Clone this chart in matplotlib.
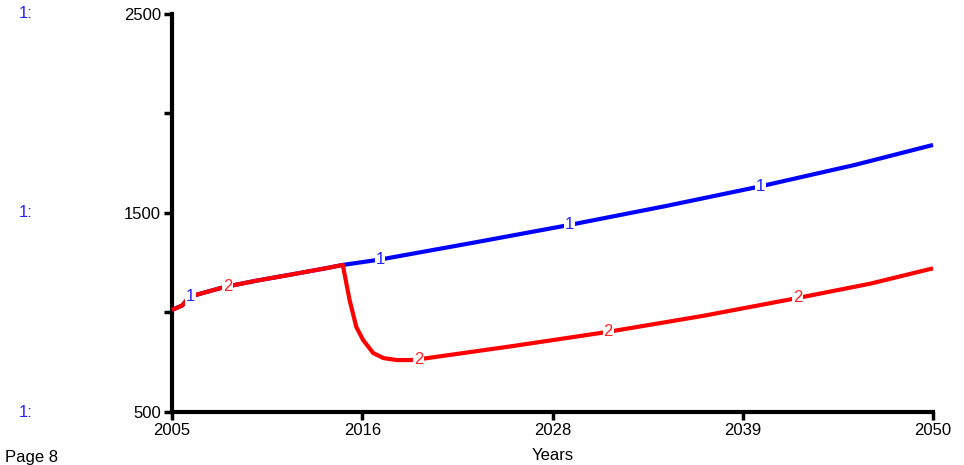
import matplotlib
matplotlib.use('Agg')
import matplotlib.pyplot as plt
import numpy as np

plt.rcParams['font.family'] = ['Liberation Sans', 'DejaVu Sans']

# series 1 (blue)
years_1 = [2005, 2005.6, 2006.0, 2006.4, 2008.1, 2010, 2012, 2014.2, 2015.1,
           2017.3, 2022.9, 2028.5, 2034.2, 2039.8, 2045.4, 2050]
values_1 = [1013, 1035, 1075, 1088, 1128, 1160, 1190, 1224, 1239,
            1266, 1352, 1440, 1535, 1634, 1742, 1842]

# series 2 (red): same as 1 until the drop, then recovers slowly
years_2 = [2005, 2005.6, 2006.0, 2006.4, 2008.1, 2010, 2012, 2014.2, 2015.1,
           2015.5, 2015.9, 2016.3, 2016.9, 2017.5, 2018.3, 2019.1, 2019.7,
           2025.2, 2030.8, 2036.4, 2042.0, 2046.3, 2050]
values_2 = [1013, 1035, 1075, 1088, 1128, 1160, 1190, 1224, 1239,
            1063, 927, 862, 796, 771, 761, 761, 766,
            832, 903, 983, 1073, 1145, 1222]

label_years_1 = [2006.1, 2017.3, 2028.5, 2039.8]
label_years_2 = [2008.3, 2019.6, 2030.8, 2042.0]

x_ticks = [2005, 2016.25, 2027.5, 2038.75, 2050]
x_tick_labels = ['2005', '2016', '2028', '2039', '2050']
y_ticks = [500, 1000, 1500, 2000, 2500]
y_tick_labels = ['500', '', '1500', '', '2500']

fig = plt.figure(figsize=(9.64, 4.65), dpi=100)
ax = fig.add_axes([172 / 964, 53 / 465, 761 / 964, 398 / 465])

ax.plot(years_1, values_1, color='#0000ff', lw=3, solid_capstyle='butt', zorder=3, clip_on=False)
ax.plot(years_2, values_2, color='#ff0000', lw=3, solid_capstyle='butt', zorder=4, clip_on=False)

for yr in label_years_1:
    ax.text(yr, np.interp(yr, years_1, values_1), '1', color='#2222ff', fontsize=12,
            ha='center', va='center', zorder=5,
            bbox=dict(boxstyle='square,pad=0.05', fc='white', ec='none'))
for yr in label_years_2:
    ax.text(yr, np.interp(yr, years_2, values_2), '2', color='#ff2222', fontsize=12,
            ha='center', va='center', zorder=5,
            bbox=dict(boxstyle='square,pad=0.05', fc='white', ec='none'))

ax.set_xlim(2005, 2050)
ax.set_ylim(500, 2500)
ax.set_xticks(x_ticks)
ax.set_xticklabels(x_tick_labels)
ax.set_yticks(y_ticks)
ax.set_yticklabels(y_tick_labels)
ax.tick_params(direction='out', length=6, width=2.5, labelsize=12, pad=2)

for side in ['top', 'right']:
    ax.spines[side].set_visible(False)
for side in ['left', 'bottom']:
    ax.spines[side].set_linewidth(3)

ax.set_xlabel('Years', fontsize=12, labelpad=7)

for yv in [2500, 1500, 500]:
    fig.text(26 / 964, ax.transData.transform((0, yv))[1] / 465, '1:', color='#2222ff',
             fontsize=12, ha='center', va='center', transform=fig.transFigure)
fig.text(5 / 964, 8 / 465, 'Page 8', fontsize=12, ha='left', va='center')

fig.savefig('out.png', dpi=100)
